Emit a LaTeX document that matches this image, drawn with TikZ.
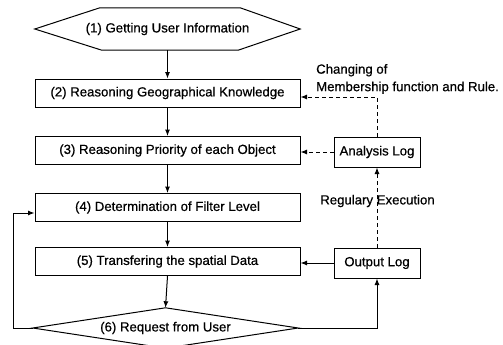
\documentclass[tikz,border=0pt]{standalone}
\usepackage{fontspec}
\setmainfont{Liberation Sans}[FakeBold=0.6]
\usetikzlibrary{arrows.meta,calc}
\begin{document}
\begin{tikzpicture}[x=1pt,y=-1pt,
  every node/.style={font=\fontsize{13.2}{17.5}\selectfont, inner sep=0pt},
  line/.style={line width=1pt},
  arr/.style={line width=1pt,-{Latex[length=6.5pt,width=5pt]}},
  darr/.style={arr,dash pattern=on 4pt off 3pt},
  stepbox/.style={draw,line width=1pt,minimum width=265pt,minimum height=28pt},
  logbox/.style={draw,line width=1pt,minimum width=86pt,minimum height=30pt},
  ghost/.style={minimum width=265pt}]
\clip (0,0) rectangle (503,345);
% nodes
\node[ghost,minimum height=42pt] (n1) at (167.5,29) {(1) Getting User Information};
\draw[line] (n1.west) -- ($(n1.north west)+(65,0)$) -- ($(n1.north east)+(-60,0)$)
  -- (n1.east) -- ($(n1.south east)+(-62,0)$) -- ($(n1.south west)+(67,0)$) -- cycle;
\node[stepbox] (n2) at (167.5,93) {(2) Reasoning Geographical Knowledge};
\node[stepbox] (n3) at (167.5,150.5) {(3) Reasoning Priority of each Object};
\node[stepbox] (n4) at (167.5,207.5) {(4) Determination of Filter Level};
\node[stepbox] (n5) at (167.5,261.5) {(5) Transfering the spatial Data};
\node[ghost,minimum height=40pt] (n6) at (165.5,328) {(6) Request from User};
\draw[line] (n6.west) -- (n6.north) -- (n6.east) -- (n6.south) -- cycle;
\node[logbox] (an) at (377,152) {Analysis Log};
\node[logbox] (ol) at (377,263) {Output Log};
\node[anchor=west,align=left] (chg) at (316,79) {Changing of\\Membership function and Rule.};
\node (reg) at (377.5,201) {Regulary Execution};
% main flow
\draw[arr] (n1.south) -- (n2.north);
\draw[arr] (n2.south) -- (n3.north);
\draw[arr] (n3.south) -- (n4.north);
\draw[arr] (n4.south) -- (n5.north);
\draw[arr] (n5.south) -- (n6.north);
% loops
\coordinate (c1) at (377,97);
\draw[darr] (an.north) -- (c1) -- (c1 -| n2.east);
\draw[darr] (an.west) -- (an.west -| n3.east);
\draw[darr] (ol.north) -- (an.south);
\draw[arr] (ol.west) -- (ol.west -| n5.east);
\draw[arr] (n6.east) -| (ol.south);
\coordinate (lp) at (13,213);
\draw[arr] (n6.west) -| (lp) -- (lp -| n4.west);
\end{tikzpicture}
\end{document}
